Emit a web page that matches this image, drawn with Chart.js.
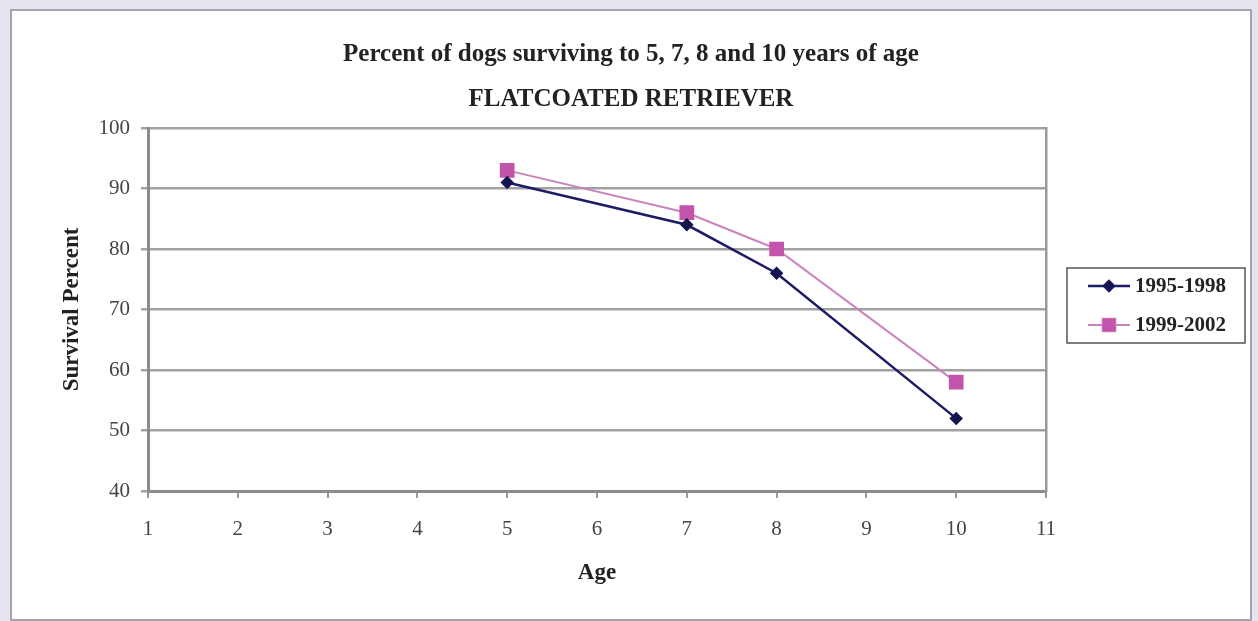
<!DOCTYPE html>
<html>
<head>
<meta charset="utf-8">
<script src="https://cdn.jsdelivr.net/npm/chart.js@4.4.1/dist/chart.umd.min.js"></script>
<style>
  html, body { margin: 0; padding: 0; background: #e5e4ef; width: 1258px; height: 621px; overflow: hidden; }
  .panel { position: absolute; left: 10px; top: 9px; width: 1238px; height: 608px; background: #fff; border: 2px solid #a4a4ae; }
  canvas { display: block; }
</style>
</head>
<body>
<div class="panel"><canvas id="survivalChart" width="1238" height="608"></canvas></div>
<script>
// ages where survival was recorded
const ages = [5, 7, 8, 10];
const survival9598 = [91, 84, 76, 52];
const survival9902 = [93, 86, 80, 58];
const seriesNames = ["1995-1998", "1999-2002"];

const serif = "'Liberation Serif', 'Times New Roman', serif";

function toPoints(ys) {
  return ages.map((a, i) => ({ x: a, y: ys[i] }));
}

/* =========================
   FRAME + LEGEND BOX
========================= */
const framePlugin = {
  id: "frameLegend",
  afterDraw(chart) {
    const { ctx, chartArea } = chart;
    const bx = chartArea.right + 21;
    const by = chartArea.top + 140;

    ctx.save();
    ctx.strokeStyle = "#555";
    ctx.lineWidth = 1.5;
    ctx.strokeRect(bx, by, 178, 75);

    chart.data.datasets.forEach((ds, i) => {
      const y = by + 18 + i * 39;
      ctx.strokeStyle = ds.borderColor;
      ctx.lineWidth = ds.borderWidth;
      ctx.beginPath();
      ctx.moveTo(bx + 21, y);
      ctx.lineTo(bx + 63, y);
      ctx.stroke();

      Chart.helpers.drawPoint(ctx, {
        pointStyle: ds.pointStyle,
        radius: ds.pointRadius,
        borderWidth: 1
      }, bx + 42, y);
      ctx.fillStyle = ds.pointBackgroundColor;
      ctx.strokeStyle = ds.pointBorderColor;
      ctx.fill();

      ctx.fillStyle = "#222";
      ctx.font = "bold 21px " + serif;
      ctx.textBaseline = "middle";
      ctx.fillText(ds.label, bx + 68, y + 1);
    });
    ctx.restore();
  }
};

new Chart(document.getElementById("survivalChart"), {
  type: "line",
  data: {
    datasets: [{
      label: seriesNames[0],
      data: toPoints(survival9598),
      borderColor: "#1c1c66",
      borderWidth: 2.5,
      pointStyle: "rectRot",
      pointRadius: 5,
      pointBackgroundColor: "#14144e",
      pointBorderColor: "#14144e",
      tension: 0
    }, {
      label: seriesNames[1],
      data: toPoints(survival9902),
      borderColor: "#c983bd",
      borderWidth: 2,
      pointStyle: "rect",
      pointRadius: 9,
      pointBackgroundColor: "#c255ab",
      pointBorderColor: "#c255ab",
      tension: 0
    }]
  },
  options: {
    responsive: false,
    devicePixelRatio: 1,
    animation: false,
    layout: { padding: 0 },
    plugins: {
      legend: { display: false },
      tooltip: { enabled: false },
      title: {
        display: true,
        text: "Percent of dogs surviving to 5, 7, 8 and 10 years of age",
        color: "#222",
        font: { family: serif, size: 25, weight: "bold" },
        padding: { top: 29, bottom: 0 }
      },
      subtitle: {
        display: true,
        text: "FLATCOATED RETRIEVER",
        color: "#222",
        font: { family: serif, size: 25, weight: "bold" },
        padding: { top: 15, bottom: 13 }
      }
    },
    scales: {
      x: {
        type: "linear",
        min: 1,
        max: 11,
        ticks: {
          stepSize: 1,
          color: "#444",
          padding: 19,
          font: { family: serif, size: 21 }
        },
        grid: {
          drawOnChartArea: false,
          tickLength: 7,
          color: "#999",
          lineWidth: 2
        },
        border: { color: "#8c8c8c", width: 3 },
        title: {
          display: true,
          text: "Age",
          color: "#222",
          font: { family: serif, size: 23, weight: "bold" },
          padding: { top: 0, bottom: 32 }
        },
        afterFit: s => { s.height = 128; }
      },
      y: {
        min: 40,
        max: 100,
        ticks: {
          stepSize: 10,
          color: "#444",
          padding: 11,
          font: { family: serif, size: 21 }
        },
        grid: {
          color: "#a2a2a2",
          lineWidth: 2.5,
          tickLength: 7
        },
        border: { color: "#8c8c8c", width: 3 },
        title: {
          display: true,
          text: "Survival Percent",
          color: "#222",
          font: { family: serif, size: 23, weight: "bold" },
          padding: { top: 46, bottom: 0 }
        },
        afterFit: s => { s.width = 136; }
      },
      yr: {
        position: "right",
        ticks: { display: false },
        grid: { display: false },
        border: { display: true, color: "#9a9a9a", width: 2.5 },
        afterFit: s => { s.width = 204; }
      }
    }
  },
  plugins: [framePlugin]
});
</script>
</body>
</html>
